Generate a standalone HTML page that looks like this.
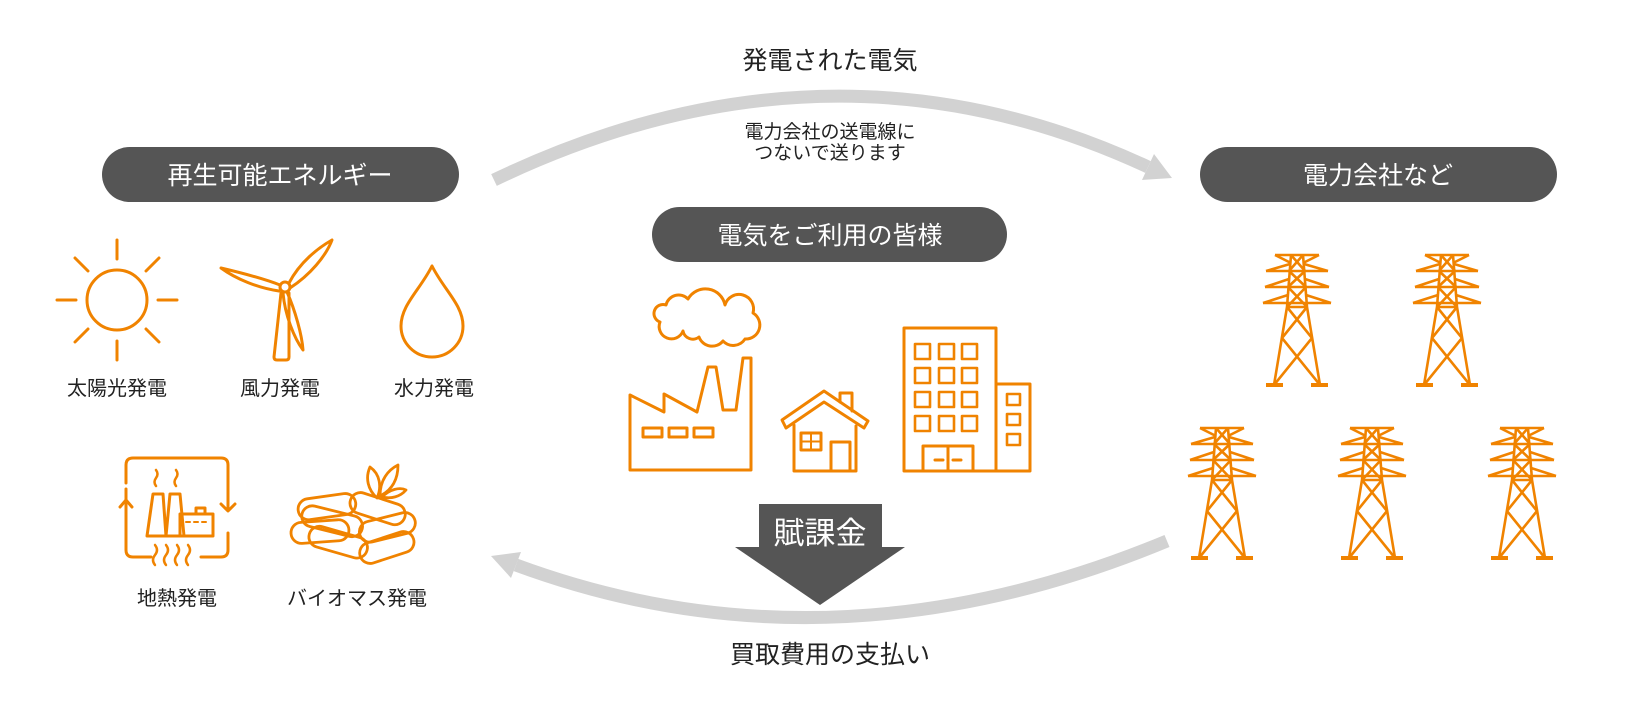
<!DOCTYPE html>
<html><head><meta charset="utf-8"><style>
html,body{margin:0;padding:0;background:#fff;}
svg{display:block;}
text{font-family:"Liberation Sans","Noto Sans CJK JP",sans-serif;}
</style></head><body>
<svg width="1640" height="708" viewBox="0 0 1640 708" xmlns="http://www.w3.org/2000/svg">
<defs>
<g id="tw" fill="none" stroke="#f08300" stroke-width="2.6" stroke-linejoin="round">
  <line x1="-22" y1="2" x2="22" y2="2"/>
  <line x1="-22" y1="2" x2="-6" y2="10"/><line x1="22" y1="2" x2="6" y2="10"/>
  <path d="M-31 18 H31 M-31 18 L-7 11 M31 18 L7 11"/>
  <path d="M-32 34 H32 M-32 34 L-8 26 M32 34 L8 26"/>
  <path d="M-34 50 H34 M-34 50 L-9 42 M34 50 L9 42"/>
  <path d="M-6 2 L-10 54 L-23 132 M6 2 L10 54 L23 132"/>
  <path d="M-6 2 L8 18 M6 2 L-8 18 M-8 18 L9 34 M8 18 L-9 34 M-9 34 L10 54 M9 34 L-10 54"/>
  <path d="M-10 54 H10 M-10 54 L15 85 M10 54 L-15 85 M-15 85 L23 132 M15 85 L-23 132"/>
  <rect x="-31" y="130" width="17" height="4" fill="#f08300" stroke="none"/>
  <rect x="14" y="130" width="17" height="4" fill="#f08300" stroke="none"/>
</g>
</defs>

<!-- titles -->
<text x="830" y="69" font-size="25" text-anchor="middle" fill="#222">発電された電気</text>
<text x="830" y="138" font-size="19" text-anchor="middle" fill="#222">電力会社の送電線に</text>
<text x="830" y="159" font-size="19" text-anchor="middle" fill="#222">つないで送ります</text>
<text x="830" y="663" font-size="25" text-anchor="middle" fill="#222">買取費用の支払い</text>

<!-- arcs -->
<path d="M494 180 Q 830 19 1148 167" fill="none" stroke="#d2d2d2" stroke-width="13"/>
<polygon points="1172,178 1142,180 1154,154" fill="#d2d2d2"/>
<path d="M1167 541 Q 830 681 516 565" fill="none" stroke="#d2d2d2" stroke-width="13"/>
<polygon points="491,556 521,552 511,578" fill="#d2d2d2"/>

<!-- pills -->
<rect x="102" y="147" width="357" height="55" rx="27.5" fill="#555"/>
<text x="280" y="184" font-size="25" text-anchor="middle" fill="#fff">再生可能エネルギー</text>
<rect x="1200" y="147" width="357" height="55" rx="27.5" fill="#555"/>
<text x="1378" y="184" font-size="25" text-anchor="middle" fill="#fff">電力会社など</text>
<rect x="652" y="207" width="355" height="55" rx="27.5" fill="#555"/>
<text x="830" y="244" font-size="25" text-anchor="middle" fill="#fff">電気をご利用の皆様</text>

<!-- 賦課金 arrow -->
<polygon points="759,504 882,504 882,547 905,547 820,605 735,547 759,547" fill="#555"/>
<text x="820" y="544" font-size="31" text-anchor="middle" fill="#fff">賦課金</text>

<g fill="none" stroke="#f08300" stroke-width="3" stroke-linecap="round" stroke-linejoin="round">
<!-- sun -->
<circle cx="117" cy="300" r="30"/>
<path d="M117 240 V259 M117 341 V360 M57 300 H76 M158 300 H177 M75 258 L88 271 M146 329 L159 342 M159 258 L146 271 M88 329 L75 342"/>
<!-- wind turbine -->
<path d="M281 293 L274 357 Q274 360 277 360 L286 360 Q289 360 289 357 L289 293"/>
<circle cx="285" cy="287" r="5"/>
<path d="M289 283 C300 262 318 248 332 240 C326 256 310 275 290 288"/>
<path d="M280 285 C262 278 238 272 221 268 C236 279 258 288 279 291"/>
<path d="M287 292 C295 310 302 335 303 350 C294 338 285 315 283 293"/>
<!-- drop -->
<path d="M432 266 C420 290 401 305 401 326 A31 31 0 0 0 463 326 C463 305 444 290 432 266 Z"/>
<!-- geothermal -->
<path d="M126 483 V465 Q126 458 133 458 H221 Q228 458 228 465 V510"/>
<path d="M221 504 L228 511 L235 504"/>
<path d="M126 489 V550 Q126 557 133 557 H151"/>
<path d="M120 507 L126 500 L132 507"/>
<path d="M228 533 V550 Q228 557 221 557 H201"/>
<path d="M155 545 q4 5 0 10 q-4 5 0 10 M166 545 q4 5 0 10 q-4 5 0 10 M177 545 q4 5 0 10 q-4 5 0 10 M188 545 q4 5 0 10 q-4 5 0 10" stroke-width="2.5"/>
<path d="M156 470 q3 4 0 8 q-3 4 0 8 M176 470 q3 4 0 8 q-3 4 0 8" stroke-width="2.5"/>
<path d="M147 536 L153 494 H163 L166 536 Z M166 536 L170 494 H180 L184 536 Z"/>
<rect x="180" y="514" width="33" height="22"/><rect x="196" y="508" width="9" height="6"/>
<path d="M186 522 h4 M194 522 h4 M202 522 h4" stroke-width="2"/>
<!-- biomass -->
<g stroke-width="2.8">
<rect x="298" y="496" width="58" height="21" rx="10.5" transform="rotate(-8 328 507)"/>
<rect x="301" y="511" width="62" height="21" rx="10.5" transform="rotate(14 333 522)"/>
<rect x="291" y="521" width="58" height="21" rx="10.5" transform="rotate(-4 321 532)"/>
<rect x="308" y="532" width="60" height="21" rx="10.5" transform="rotate(16 339 543)"/>
<rect x="349" y="498" width="57" height="21" rx="10.5" transform="rotate(18 377 509)"/>
<rect x="359" y="517" width="57" height="21" rx="10.5" transform="rotate(-14 387 528)"/>
<rect x="359" y="537" width="56" height="21" rx="10.5" transform="rotate(-18 387 548)"/>
<path d="M377 498 C368 490 365 478 370 467 C380 474 382 487 377 498 Z"/>
<path d="M380 496 C380 480 388 470 398 465 C398 480 392 490 380 496 Z"/>
<path d="M382 497 C390 489 400 487 406 490 C400 497 391 499 382 497 Z"/>
</g>
<!-- factory -->
<path d="M630 470 V395 L664 412 V394 L697 412 L708 367 H716 L723 410 H736 L743 358 H751 V470 Z"/>
<path d="M643 428 h19 v9 h-19 z M669 428 h18 v9 h-18 z M694 428 h19 v9 h-19 z"/>
<path d="M660 322 a9 9 0 0 1 6 -17 a13 13 0 0 1 22 -6 a20 20 0 0 1 37 6 a14 14 0 0 1 28 8 a14 14 0 0 1 -8 26 a14 14 0 0 1 -22 2 a14 14 0 0 1 -24 -4 a10 10 0 0 1 -16 -6 a10 10 0 0 1 -23 -9 z"/>
<!-- house -->
<path d="M782 420 L824 391 L868 421 L864 428 L824 402 L786 428 Z"/>
<path d="M794 425 V471 H856 V426"/>
<path d="M840 402 V393 H852 V411"/>
<rect x="801" y="433" width="20" height="17"/><path d="M811 433 V450 M801 441.5 H821" stroke-width="2"/>
<path d="M831 471 V442 H850 V471"/>
<!-- building -->
<rect x="904" y="328" width="92" height="143"/>
<rect x="996" y="384" width="34" height="87"/>
<g stroke-width="2.6">
<rect x="915" y="344" width="15" height="15"/><rect x="939" y="344" width="15" height="15"/><rect x="962" y="344" width="15" height="15"/>
<rect x="915" y="368" width="15" height="15"/><rect x="939" y="368" width="15" height="15"/><rect x="962" y="368" width="15" height="15"/>
<rect x="915" y="392" width="15" height="15"/><rect x="939" y="392" width="15" height="15"/><rect x="962" y="392" width="15" height="15"/>
<rect x="915" y="416" width="15" height="15"/><rect x="939" y="416" width="15" height="15"/><rect x="962" y="416" width="15" height="15"/>
<rect x="1007" y="394" width="13" height="11"/><rect x="1007" y="414" width="13" height="11"/><rect x="1007" y="434" width="13" height="11"/>
</g>
<path d="M923 471 V446 H973 V471 M948 446 V471"/>
<path d="M935 460 h8 M953 460 h8"/>
</g>

<!-- labels -->
<g font-size="20" fill="#222" text-anchor="middle">
<text x="117" y="395">太陽光発電</text>
<text x="280" y="395">風力発電</text>
<text x="434" y="395">水力発電</text>
<text x="177" y="605">地熱発電</text>
<text x="357" y="605">バイオマス発電</text>
</g>

<!-- towers -->
<use href="#tw" x="1297" y="253"/>
<use href="#tw" x="1447" y="253"/>
<use href="#tw" x="1222" y="426"/>
<use href="#tw" x="1372" y="426"/>
<use href="#tw" x="1522" y="426"/>
</svg>
</body></html>
